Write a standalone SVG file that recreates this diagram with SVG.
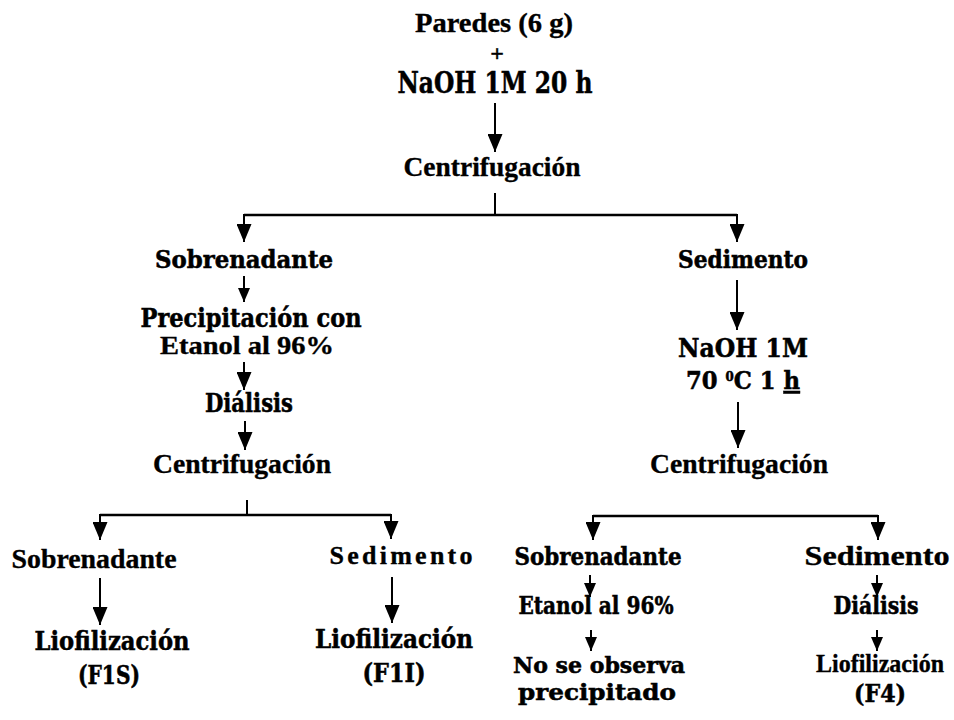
<svg xmlns="http://www.w3.org/2000/svg" width="954" height="720" viewBox="0 0 954 720">
<defs>
<marker id="ah" viewBox="0 0 18 15" refX="18" refY="7.5" markerWidth="18" markerHeight="15" markerUnits="userSpaceOnUse" orient="auto"><path d="M0,0 L18,7.5 L0,15 Z" fill="#000"/></marker>
<marker id="as" viewBox="0 0 14 12" refX="14" refY="6" markerWidth="14" markerHeight="12" markerUnits="userSpaceOnUse" orient="auto"><path d="M0,0 L14,6 L0,12 Z" fill="#000"/></marker>
</defs>
<style>
.t{font-family:"Liberation Serif","Times New Roman",Times,serif;font-weight:bold;fill:#000;stroke:#000;stroke-width:0.35;text-anchor:middle}
.c{font-family:"DejaVu Serif","Liberation Serif",serif;font-weight:bold;fill:#000;stroke:#000;stroke-width:0.55;text-anchor:middle}
.ln{stroke:#000;stroke-width:2;fill:none}
.hz{stroke:#000;stroke-width:2.5;fill:none}
.a{marker-end:url(#ah)}
.s{marker-end:url(#as)}
</style>
<rect width="954" height="720" fill="#fff"/>
<g id="connectors">
<path class="ln a" d="M495,103 V152"/>
<path class="ln" d="M495,193 V215"/>
<path class="hz" d="M244,215 H737"/>
<path class="ln a" d="M244,214 V242"/>
<path class="ln a" d="M737,214 V242"/>
<path class="ln s" d="M244,276 V302"/>
<path class="ln a" d="M244,362 V390"/>
<path class="ln a" d="M245,421 V450"/>
<path class="ln a" d="M737,280 V330"/>
<path class="ln a" d="M738,402 V448"/>
<path class="ln" d="M247,500 V515"/>
<path class="hz" d="M100,515 H391"/>
<path class="ln a" d="M100,514 V540"/>
<path class="ln a" d="M391,514 V539"/>
<path class="ln a" d="M100,578 V625"/>
<path class="ln a" d="M392,577 V623"/>
<path class="hz" d="M593,516 H878"/>
<path class="ln a" d="M593,515 V540"/>
<path class="ln a" d="M878,515 V540"/>
<path class="ln s" d="M590,575 V597"/>
<path class="ln s" d="M591,630 V651"/>
<path class="ln s" d="M877,575 V597"/>
<path class="ln s" d="M877,630 V651"/>
</g>
<g id="n-paredes"><text class="t" x="494" y="32" font-size="27" textLength="158" lengthAdjust="spacingAndGlyphs">Paredes (6 g)</text>
<text class="t" x="497" y="61" font-size="24">+</text>
<text class="c" x="495" y="93" font-size="29" textLength="195" lengthAdjust="spacingAndGlyphs">NaOH 1M 20 h</text></g>
<g id="n-centrif1"><text class="t" x="492" y="176" font-size="28" textLength="177" lengthAdjust="spacingAndGlyphs">Centrifugación</text></g>
<g id="n-sobre1"><text class="c" x="244" y="268" font-size="24" textLength="178" lengthAdjust="spacingAndGlyphs">Sobrenadante</text></g>
<g id="n-precip"><text class="c" x="251" y="327" font-size="26" textLength="221" lengthAdjust="spacingAndGlyphs">Precipitación con</text>
<text class="t" x="247" y="354" font-size="25" textLength="174" lengthAdjust="spacingAndGlyphs">Etanol al 96%</text></g>
<g id="n-dial1"><text class="c" x="249" y="412" font-size="26" textLength="88" lengthAdjust="spacingAndGlyphs">Diálisis</text></g>
<g id="n-centrif2"><text class="t" x="242" y="473" font-size="28" textLength="178" lengthAdjust="spacingAndGlyphs">Centrifugación</text></g>
<g id="n-sobre2"><text class="t" x="94" y="568" font-size="28" textLength="165" lengthAdjust="spacingAndGlyphs">Sobrenadante</text></g>
<g id="n-sed2"><text class="t" x="401" y="564" font-size="26" textLength="143" lengthAdjust="spacing">Sedimento</text></g>
<g id="n-f1s"><text class="c" x="112" y="650" font-size="26" textLength="155" lengthAdjust="spacingAndGlyphs">Liofilización</text>
<text class="c" x="109" y="684" font-size="26" textLength="62" lengthAdjust="spacingAndGlyphs">(F1S)</text></g>
<g id="n-f1i"><text class="c" x="394" y="648" font-size="26" textLength="158" lengthAdjust="spacingAndGlyphs">Liofilización</text>
<text class="c" x="394" y="682" font-size="26" textLength="63" lengthAdjust="spacingAndGlyphs">(F1I)</text></g>
<g id="n-sed1"><text class="c" x="743" y="268" font-size="24" textLength="130" lengthAdjust="spacingAndGlyphs">Sedimento</text></g>
<g id="n-naoh2"><text class="c" x="743" y="357" font-size="26" textLength="130" lengthAdjust="spacingAndGlyphs">NaOH 1M</text>
<text class="c" x="743" y="389" font-size="25" textLength="114" lengthAdjust="spacingAndGlyphs">70 <tspan font-size="13" dy="-8">0</tspan><tspan dy="8">C 1 </tspan><tspan text-decoration="underline">h</tspan></text></g>
<g id="n-centrif3"><text class="t" x="739" y="473" font-size="28" textLength="178" lengthAdjust="spacingAndGlyphs">Centrifugación</text></g>
<g id="n-sobre3"><text class="c" x="598" y="565" font-size="24" textLength="167" lengthAdjust="spacingAndGlyphs">Sobrenadante</text></g>
<g id="n-etanol2"><text class="c" x="596" y="614" font-size="24" textLength="155" lengthAdjust="spacingAndGlyphs">Etanol al 96%</text></g>
<g id="n-noprec"><text class="c" x="599" y="673" font-size="23" textLength="172" lengthAdjust="spacingAndGlyphs">No se observa</text>
<text class="c" x="597" y="700" font-size="23" textLength="158" lengthAdjust="spacingAndGlyphs">precipitado</text></g>
<g id="n-sed3"><text class="t" x="877" y="565" font-size="27" textLength="145" lengthAdjust="spacingAndGlyphs">Sedimento</text></g>
<g id="n-dial2"><text class="c" x="876" y="614" font-size="25" textLength="85" lengthAdjust="spacingAndGlyphs">Diálisis</text></g>
<g id="n-f4"><text class="t" x="880" y="672" font-size="25" textLength="128" lengthAdjust="spacingAndGlyphs">Liofilización</text>
<text class="c" x="880" y="702" font-size="25" textLength="52" lengthAdjust="spacingAndGlyphs">(F4)</text></g>
</svg>
